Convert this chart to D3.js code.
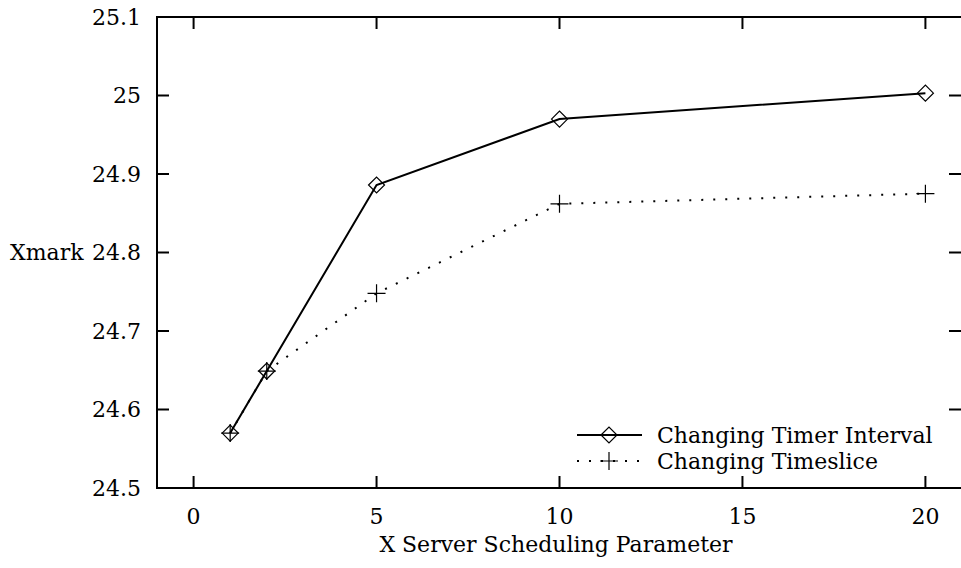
<!DOCTYPE html>
<html>
<head>
<meta charset="utf-8">
<script src="https://cdn.jsdelivr.net/npm/d3@7/dist/d3.min.js"></script>
<style>
  html, body { margin: 0; padding: 0; background: #fff; }
  svg { display: block; }
  text { font-family: "DejaVu Serif", serif; fill: #000; }
</style>
</head>
<body>
<svg id="chart" width="961" height="568"></svg>
<script>
// data
const xParams = [1, 2, 5, 10, 20];
const timerInterval = [24.570, 24.649, 24.886, 24.970, 25.003];
const timeslice = [24.570, 24.649, 24.748, 24.862, 24.875];
const xTicks = [0, 5, 10, 15, 20];
const yTicks = [24.5, 24.6, 24.7, 24.8, 24.9, 25, 25.1];
const seriesNames = ["Changing Timer Interval", "Changing Timeslice"];

const FONT = 22;
// right edge of the frame sits just past the canvas, as in the original
const margin = { top: 17, right: -1, bottom: 80, left: 157 };
const W = 961, H = 568;

const svg = d3.select("#chart");

const x = d3.scaleLinear().domain([-1, 21]).range([margin.left, W - margin.right]);
const y = d3.scaleLinear().domain([24.5, 25.1]).range([H - margin.bottom, margin.top]);

const fmtY = d => d3.format("")(+d.toFixed(1));

// frame
svg.append("rect")
  .attr("x", x(-1)).attr("y", y(25.1))
  .attr("width", x(21) - x(-1)).attr("height", y(24.5) - y(25.1))
  .attr("fill", "none").attr("stroke", "#000").attr("stroke-width", 2);

// ticks: all four sides, pointing inward
const tickLen = 12;
const g = svg.append("g").attr("stroke", "#000").attr("stroke-width", 2);
xTicks.forEach(t => {
  g.append("line").attr("x1", x(t)).attr("x2", x(t)).attr("y1", y(24.5)).attr("y2", y(24.5) - tickLen);
  g.append("line").attr("x1", x(t)).attr("x2", x(t)).attr("y1", y(25.1)).attr("y2", y(25.1) + tickLen);
});
yTicks.forEach(t => {
  g.append("line").attr("x1", x(-1)).attr("x2", x(-1) + tickLen).attr("y1", y(t)).attr("y2", y(t));
  g.append("line").attr("x1", x(21)).attr("x2", x(21) - tickLen - 1).attr("y1", y(t)).attr("y2", y(t));
});

// tick labels
svg.append("g").selectAll("text").data(xTicks).join("text")
  .attr("x", d => x(d)).attr("y", 524)
  .attr("text-anchor", "middle").attr("font-size", FONT)
  .text(d => d);

svg.append("g").selectAll("text").data(yTicks).join("text")
  .attr("x", 141).attr("y", d => y(d)).attr("dy", "0.35em")
  .attr("text-anchor", "end").attr("font-size", FONT)
  .text(fmtY);

// axis titles
svg.append("text").attr("x", 10).attr("y", y(24.8)).attr("dy", "0.35em")
  .attr("font-size", FONT).text("Xmark");
svg.append("text").attr("x", 556).attr("y", 552)
  .attr("text-anchor", "middle").attr("font-size", FONT)
  .text("X Server Scheduling Parameter");

// series
const line = d3.line().x(d => x(d[0])).y(d => y(d[1]));
const s1 = xParams.map((v, i) => [v, timerInterval[i]]);
const s2 = xParams.map((v, i) => [v, timeslice[i]]);

svg.append("path").datum(s2).attr("d", line)
  .attr("fill", "none").attr("stroke", "#000").attr("stroke-width", 2)
  .attr("stroke-dasharray", "2,10");
svg.append("path").datum(s1).attr("d", line)
  .attr("fill", "none").attr("stroke", "#000").attr("stroke-width", 2);

const diamond = (sel, cx, cy) => sel.append("path")
  .attr("d", `M${cx - 8},${cy}L${cx},${cy - 8}L${cx + 8},${cy}L${cx},${cy + 8}Z`)
  .attr("fill", "none").attr("stroke", "#000").attr("stroke-width", 1.2);
const plus = (sel, cx, cy) => sel.append("path")
  .attr("d", `M${cx - 9},${cy}H${cx + 9}M${cx},${cy - 9}V${cy + 9}`)
  .attr("fill", "none").attr("stroke", "#000").attr("stroke-width", 1.2);

const marks = svg.append("g");
s1.forEach(d => diamond(marks, x(d[0]), y(d[1])));
s2.forEach(d => plus(marks, x(d[0]), y(d[1])));

// legend
const legend = svg.append("g");
const legRows = [435, 461];
legend.append("line").attr("x1", 577).attr("x2", 642).attr("y1", legRows[0]).attr("y2", legRows[0])
  .attr("stroke", "#000").attr("stroke-width", 2);
diamond(legend, 609, legRows[0]);
legend.append("line").attr("x1", 577).attr("x2", 642).attr("y1", legRows[1]).attr("y2", legRows[1])
  .attr("stroke", "#000").attr("stroke-width", 2).attr("stroke-dasharray", "2,10");
plus(legend, 609, legRows[1]);
legend.selectAll("text").data(seriesNames).join("text")
  .attr("x", 657).attr("y", (d, i) => legRows[i]).attr("dy", "0.35em")
  .attr("font-size", FONT).text(d => d);
</script>
</body>
</html>
